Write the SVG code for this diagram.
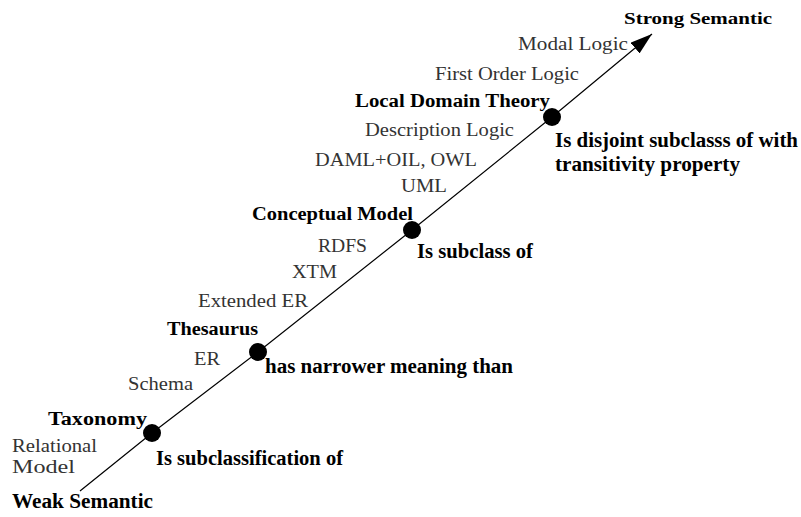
<svg xmlns="http://www.w3.org/2000/svg" width="801" height="517" viewBox="0 0 801 517">
<defs>
<style>
text{font-family:"Liberation Serif","Times New Roman",serif}
.r{font-size:19px;fill:#333}
.b{font-size:18.5px;font-weight:bold;fill:#000}
.rel{font-size:20.5px;font-weight:bold;fill:#000}
.dot{fill:#000}
.axis{fill:none;stroke:#000;stroke-width:1.2}
</style>
<marker id="arrow" markerUnits="userSpaceOnUse" viewBox="0 0 22 14" refX="22" refY="7" markerWidth="22" markerHeight="14" orient="auto">
<path d="M0,0 L22,7 L0,14 z" fill="#000"/>
</marker>
</defs>
<rect width="801" height="517" fill="#fff"/>
<g id="connectors">
<path class="axis" d="M80,491 L152,433 L258,352 L412,230 L552,117 L652,34" marker-end="url(#arrow)"/>
</g>
<g id="ends">
<text class="b" x="624" y="24" style="font-size:17px" textLength="148" lengthAdjust="spacingAndGlyphs">Strong Semantic</text>
<text class="rel" x="12" y="508" textLength="141" lengthAdjust="spacingAndGlyphs">Weak Semantic</text>
</g>
<g id="node-local-domain-theory">
<circle class="dot" cx="552" cy="117" r="9"/>
<text class="b" x="355" y="107" textLength="195" lengthAdjust="spacingAndGlyphs">Local Domain Theory</text>
<text class="rel" x="555" y="147" textLength="243" lengthAdjust="spacingAndGlyphs">Is disjoint subclasss of with</text>
<text class="rel" x="555" y="171" textLength="185" lengthAdjust="spacingAndGlyphs">transitivity property</text>
</g>
<g id="node-conceptual-model">
<circle class="dot" cx="412" cy="230" r="9"/>
<text class="b" x="252" y="220" textLength="161" lengthAdjust="spacingAndGlyphs">Conceptual Model</text>
<text class="rel" x="417" y="258" textLength="116" lengthAdjust="spacingAndGlyphs">Is subclass of</text>
</g>
<g id="node-thesaurus">
<circle class="dot" cx="258" cy="352" r="9"/>
<text class="b" x="167" y="335" textLength="91" lengthAdjust="spacingAndGlyphs">Thesaurus</text>
<text class="rel" x="265" y="373" textLength="248" lengthAdjust="spacingAndGlyphs">has narrower meaning than</text>
</g>
<g id="node-taxonomy">
<circle class="dot" cx="152" cy="433" r="9"/>
<text class="b" x="48" y="425" textLength="99" lengthAdjust="spacingAndGlyphs">Taxonomy</text>
<text class="rel" x="156" y="465" textLength="187" lengthAdjust="spacingAndGlyphs">Is subclassification of</text>
</g>
<g id="labels">
<text class="r" x="518" y="50" textLength="110" lengthAdjust="spacingAndGlyphs">Modal Logic</text>
<text class="r" x="435" y="80" textLength="144" lengthAdjust="spacingAndGlyphs">First Order Logic</text>
<text class="r" x="365" y="136" textLength="149" lengthAdjust="spacingAndGlyphs">Description Logic</text>
<text class="r" x="315" y="166" textLength="162" lengthAdjust="spacingAndGlyphs">DAML+OIL, OWL</text>
<text class="r" x="401" y="192" textLength="46" lengthAdjust="spacingAndGlyphs">UML</text>
<text class="r" x="318" y="252" textLength="49" lengthAdjust="spacingAndGlyphs">RDFS</text>
<text class="r" x="292" y="278" textLength="45" lengthAdjust="spacingAndGlyphs">XTM</text>
<text class="r" x="198" y="307" textLength="110" lengthAdjust="spacingAndGlyphs">Extended ER</text>
<text class="r" x="194" y="365" textLength="26" lengthAdjust="spacingAndGlyphs">ER</text>
<text class="r" x="128" y="390" textLength="65" lengthAdjust="spacingAndGlyphs">Schema</text>
<text class="r" x="12" y="452" textLength="85" lengthAdjust="spacingAndGlyphs">Relational</text>
<text class="r" x="12" y="473" textLength="63" lengthAdjust="spacingAndGlyphs">Model</text>
</g>
</svg>
